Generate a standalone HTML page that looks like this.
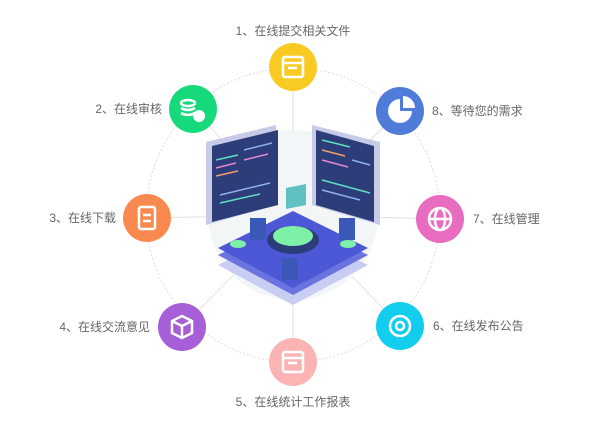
<html><head><style>body{margin:0;background:#fff}text{font-family:"Liberation Sans","Noto Sans CJK SC",sans-serif;font-size:12px;fill:#666}</style></head><body>
<svg width="607" height="435" viewBox="0 0 607 435">
<circle cx="293" cy="215" r="147" fill="none" stroke="#ddd" stroke-dasharray="2,2"/>
<g stroke="#e2e2e2" stroke-width="1">
<line x1="293" y1="215" x2="293" y2="67"/><line x1="293" y1="215" x2="193" y2="109"/><line x1="293" y1="215" x2="400" y2="111"/>
<line x1="293" y1="215" x2="147" y2="218"/><line x1="293" y1="215" x2="440" y2="219"/><line x1="293" y1="215" x2="182" y2="327"/>
<line x1="293" y1="215" x2="400" y2="326"/><line x1="293" y1="215" x2="293" y2="362"/></g>
<circle cx="293" cy="215" r="85" fill="#f3f6f6"/>
<polygon points="218,265 293,228 368,265 293,305" fill="#c8cdf3"/>
<polygon points="218,255 293,218 368,255 293,295" fill="#6b73e0"/>
<polygon points="218,248 293,211 368,248 293,288" fill="#4d58d6"/>
<polygon points="206,142 276,125 276,205 206,225" fill="#c8cbe8"/>
<polygon points="212,146 278,130 278,205 212,222" fill="#2c3d7a"/>
<polygon points="380,142 312,125 312,205 380,225" fill="#c8cbe8"/>
<polygon points="374,146 316,130 316,205 374,222" fill="#2c3d7a"/>
<g stroke-width="1.5">
<line x1="216" y1="160" x2="238" y2="155" stroke="#5ee0c0"/><line x1="216" y1="168" x2="236" y2="163" stroke="#e58acb"/>
<line x1="216" y1="176" x2="238" y2="171" stroke="#f0a06b"/><line x1="244" y1="150" x2="272" y2="143" stroke="#8fb0f0"/>
<line x1="244" y1="160" x2="268" y2="154" stroke="#e58acb"/><line x1="220" y1="195" x2="270" y2="183" stroke="#8fb0f0"/>
<line x1="220" y1="203" x2="260" y2="194" stroke="#5ee0c0"/>
<line x1="322" y1="140" x2="350" y2="147" stroke="#5ee0c0"/><line x1="322" y1="150" x2="345" y2="156" stroke="#f0a06b"/>
<line x1="322" y1="160" x2="348" y2="167" stroke="#e58acb"/><line x1="352" y1="160" x2="370" y2="165" stroke="#8fb0f0"/>
<line x1="322" y1="180" x2="370" y2="193" stroke="#5ee0c0"/><line x1="322" y1="190" x2="360" y2="200" stroke="#8fb0f0"/>
</g>
<ellipse cx="293" cy="240" rx="26" ry="14" fill="#2c3d7a"/>
<ellipse cx="293" cy="236" rx="20" ry="10" fill="#7ff0a8"/>
<polygon points="286,188 306,184 306,205 286,209" fill="#5fc2c0"/>
<rect x="250" y="218" width="16" height="22" fill="#3a58b8"/><rect x="339" y="218" width="16" height="22" fill="#3a58b8"/>
<rect x="282" y="258" width="16" height="22" fill="#3a58b8"/>
<ellipse cx="238" cy="244" rx="8" ry="4" fill="#7ff0a8"/><ellipse cx="348" cy="244" rx="8" ry="4" fill="#7ff0a8"/>
<circle cx="293" cy="67" r="24" fill="#f9cb22"/><circle cx="193" cy="109" r="24" fill="#16d97c"/>
<circle cx="400" cy="111" r="24" fill="#4f7bd9"/><circle cx="147" cy="218" r="24" fill="#f98a4f"/>
<circle cx="440" cy="219" r="24" fill="#e86cc0"/><circle cx="182" cy="327" r="24" fill="#a65fd6"/>
<circle cx="400" cy="326" r="24" fill="#12cdee"/><circle cx="293" cy="362" r="24" fill="#fbb3b3"/>
<g fill="none" stroke="#fff" stroke-width="2.5">
<rect x="283" y="57" width="20" height="20" rx="2"/><line x1="284" y1="63" x2="302" y2="63"/><line x1="288" y1="68" x2="297" y2="68"/>
<rect x="283" y="352" width="20" height="20" rx="2"/><line x1="284" y1="358" x2="302" y2="358"/><line x1="288" y1="363" x2="297" y2="363"/>
<rect x="139" y="207" width="16" height="22" rx="2"/><line x1="143" y1="215" x2="151" y2="215"/><line x1="143" y1="221" x2="151" y2="221"/>
<circle cx="400" cy="326" r="10"/><circle cx="400" cy="326" r="4"/>
<circle cx="440" cy="219" r="11"/><ellipse cx="440" cy="219" rx="5" ry="11"/><line x1="429" y1="219" x2="451" y2="219"/>
<polygon points="182,316 192,321 192,333 182,338 172,333 172,321"/><polyline points="172,321 182,326 192,321"/><line x1="182" y1="326" x2="182" y2="338"/>
<ellipse cx="188" cy="103" rx="7" ry="3"/><path d="M181 108q7 4 14 0M181 113q7 4 14 0"/></g>
<circle cx="199" cy="116" r="6" fill="#fff"/>
<path d="M400 99a12 12 0 1 0 12 12h-12z" fill="#fff"/><path d="M403 96a12 12 0 0 1 12 12h-12z" fill="#fff"/>
<text x="293" y="35" text-anchor="middle">1、在线提交相关文件</text>
<text x="162" y="113" text-anchor="end">2、在线审核</text>
<text x="116" y="222" text-anchor="end">3、在线下载</text>
<text x="150" y="331" text-anchor="end">4、在线交流意见</text>
<text x="293" y="406" text-anchor="middle">5、在线统计工作报表</text>
<text x="433" y="330">6、在线发布公告</text>
<text x="473" y="223">7、在线管理</text>
<text x="432" y="115">8、等待您的需求</text>
</svg></body></html>
